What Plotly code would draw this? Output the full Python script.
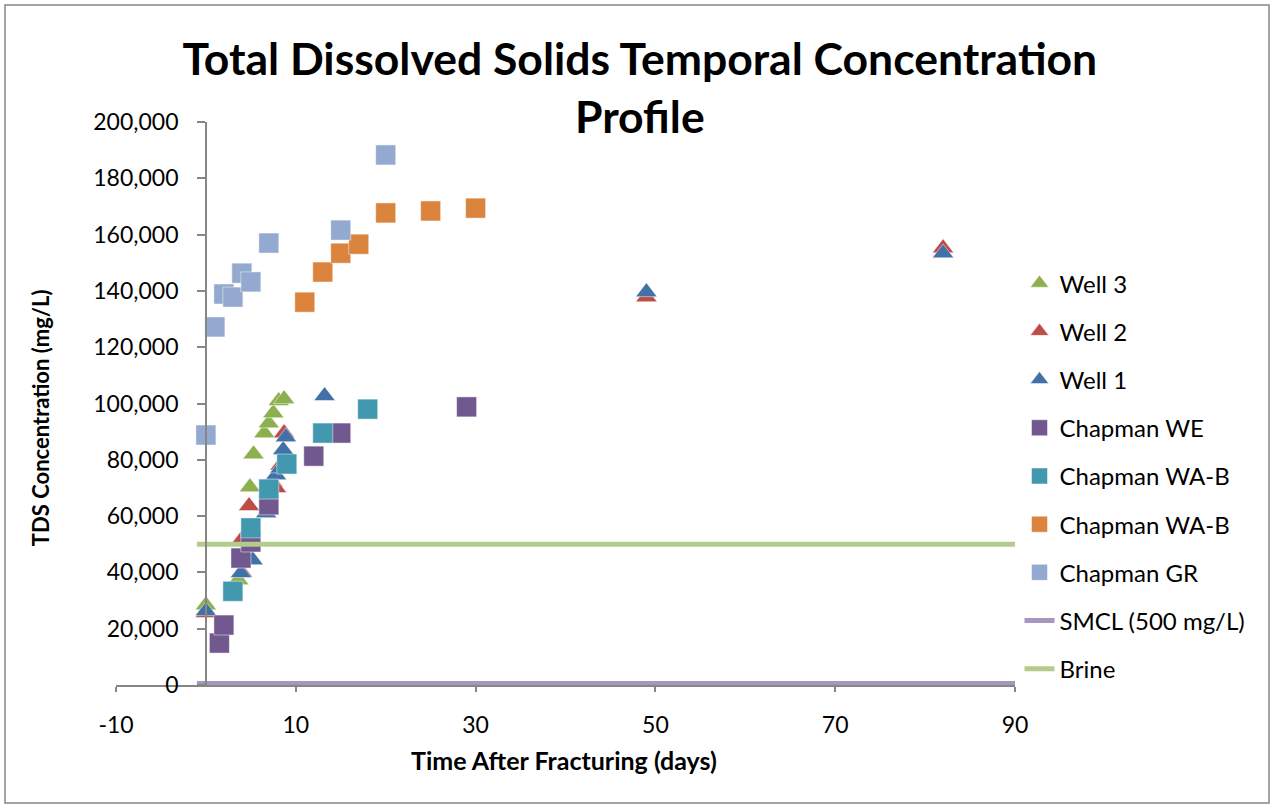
import plotly.graph_objects as go

# ---- data ----
well3_x = [0, 3.6, 4.9, 5.3, 6.5, 7.0, 7.5, 8.1, 8.7]
well3_y = [28400, 37300, 70300, 82000, 89500, 93000, 96600, 100900, 101600]

well2_x = [0, 4.0, 4.1, 4.8, 7.4, 7.8, 8.3, 8.7, 49, 82]
well2_y = [25600, 40000, 52200, 63600, 72100, 70000, 78000, 89500, 137800, 155200]

well1_x = [0, 3.9, 5.2, 6.7, 7.8, 8.3, 8.6, 8.9, 13.2, 49, 82]
well1_y = [26300, 39800, 44400, 61100, 74600, 77000, 83500, 88100, 102700, 139600, 153400]

we_x = [1.5, 2.0, 3.9, 5.0, 7.0, 12.0, 15.0, 29.0]
we_y = [14900, 21300, 45100, 50800, 64000, 81300, 89500, 98800]

wab_x = [3.0, 5.0, 7.0, 9.0, 13.0, 18.0]
wab_y = [33300, 55800, 69600, 78500, 89500, 98000]

wab2_x = [11, 13, 15, 17, 20, 25, 30]
wab2_y = [136000, 146700, 153400, 156600, 167700, 168400, 169400]

gr_x = [0, 1, 2, 3, 4, 5, 7, 15, 20]
gr_y = [88800, 127200, 138900, 137800, 146300, 143200, 157000, 161600, 188300]

smcl_x = [-1, 90]
smcl_y = [500, 500]
brine_x = [-1, 90]
brine_y = [50000, 50000]

x_ticks = [-10, 10, 30, 50, 70, 90]
x_tick_text = ["-10", "10", "30", "50", "70", "90"]

FONT = "Lato"
fig = go.Figure()

def pts(name, x, y, color, symbol, size):
    fig.add_trace(go.Scatter(
        x=x, y=y, mode="markers", name=name, legendgroup=name + color,
        marker=dict(symbol=symbol, size=size, color=color,
                    line=dict(width=0.8, color="rgba(255,255,255,0.6)"))))

pts("Well 3", well3_x, well3_y, "#8CB04E", "triangle-up", 18.5)
pts("Well 2", well2_x, well2_y, "#BE4B48", "triangle-up", 18.5)
pts("Well 1", well1_x, well1_y, "#4171A7", "triangle-up", 18.5)
pts("Chapman WE", we_x, we_y, "#71588F", "square", 20)
pts("Chapman WA-B", wab_x, wab_y, "#4198AF", "square", 20)
pts("Chapman WA-B", wab2_x, wab2_y, "#DB843D", "square", 20)
pts("Chapman GR", gr_x, gr_y, "#93A9CF", "square", 20)

fig.add_trace(go.Scatter(x=smcl_x, y=smcl_y, mode="lines", name="SMCL (500 mg/L)",
                         legendgroup="smcl", line=dict(color="#A697C1", width=5)))
fig.add_trace(go.Scatter(x=brine_x, y=brine_y, mode="lines", name="Brine",
                         legendgroup="brine", line=dict(color="#B3CC8C", width=5)))

axis_col = "#868686"
fig.update_layout(
    width=1272, height=808,
    margin=dict(l=116, r=257, t=122, b=123),
    paper_bgcolor="white", plot_bgcolor="white",
    font=dict(family=FONT, color="black", size=23),
    title=dict(text="<b>Total Dissolved Solids Temporal Concentration<br>Profile</b>",
               x=0.503, xref="container", xanchor="center", y=0.907, yanchor="top",
               font=dict(family=FONT, size=44.5, color="black")),
    xaxis=dict(range=[-10, 90], tickvals=x_ticks, ticktext=x_tick_text,
               showgrid=False, zeroline=False,
               showline=True, linecolor=axis_col, linewidth=1.5,
               ticks="outside", ticklen=5, tickcolor=axis_col, tickwidth=1.5,
               ticklabelstandoff=14, tickfont=dict(size=23)),
    yaxis=dict(range=[0, 200000], dtick=20000, tickformat=",d", showgrid=False,
               zeroline=False, anchor="free", position=0.1,
               showline=True, linecolor=axis_col, linewidth=1.5,
               ticks="outside", ticklen=8, tickcolor=axis_col, tickwidth=1.5,
               ticklabelstandoff=14, tickfont=dict(size=23)),
    legend=dict(x=1.005, xanchor="left", y=0.753, yanchor="top",
                font=dict(family=FONT, size=24), tracegroupgap=14,
                bgcolor="rgba(0,0,0,0)"),
    showlegend=True,
)

fig.add_annotation(text="<b>TDS Concentration (mg/L)</b>", xref="paper", yref="paper",
                   x=-0.0845, y=0.474, xanchor="center", yanchor="middle",
                   textangle=-90, showarrow=False,
                   font=dict(family=FONT, size=22, color="black"))
fig.add_annotation(text="<b>Time After Fracturing (days)</b>", xref="paper", yref="paper",
                   x=0.4983, y=-0.1332, xanchor="center", yanchor="middle",
                   showarrow=False,
                   font=dict(family=FONT, size=25, color="black"))

# chart border
fig.add_shape(type="rect", xref="paper", yref="paper",
              x0=(5 - 116) / 899, x1=(1269 - 116) / 899,
              y0=(685 - 803) / 563, y1=(685 - 5) / 563,
              line=dict(color=axis_col, width=1.5), fillcolor="rgba(0,0,0,0)")

fig.write_html("out.html")
